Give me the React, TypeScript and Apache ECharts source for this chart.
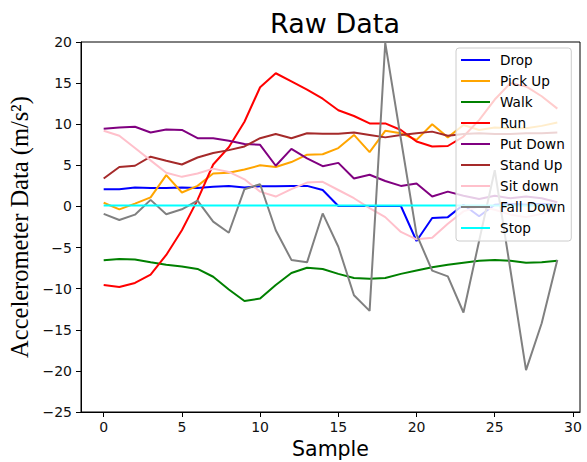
import React, { useEffect, useRef } from "react";
import * as echarts from "echarts";

const samples = Array.from({ length: 30 }, (_, i) => i);
const xTicks = [0, 5, 10, 15, 20, 25, 30];

const drop = [2.1, 2.1, 2.3, 2.25, 2.25, 2.3, 2.25, 2.4, 2.5, 2.3, 2.45, 2.45, 2.5, 2.5, 2.0, 0.05, 0.05, 0.05, 0.05, 0.05, -4.2, -1.4, -1.3, 0.2, -1.2, 0.2, 0.3, 0.2, 0.3, 0.2];
const pickUp = [0.45, -0.35, 0.35, 1.1, 3.8, 1.7, 2.5, 4.0, 4.1, 4.5, 5.0, 4.8, 5.4, 6.3, 6.35, 7.1, 8.7, 6.6, 9.2, 8.9, 8.1, 10.0, 8.4, 9.9, 9.3, 9.6, 9.5, 9.5, 9.8, 10.2];
const walk = [-6.55, -6.4, -6.45, -6.8, -7.1, -7.3, -7.6, -8.55, -10.1, -11.5, -11.2, -9.55, -8.1, -7.45, -7.6, -8.2, -8.7, -8.8, -8.7, -8.2, -7.8, -7.4, -7.1, -6.85, -6.6, -6.5, -6.6, -6.85, -6.8, -6.6];
const run = [-9.55, -9.8, -9.3, -8.3, -5.9, -2.9, 0.8, 5.1, 7.2, 10.3, 14.5, 16.2, 15.2, 14.2, 13.1, 11.7, 11.0, 10.1, 10.1, 9.3, 7.9, 7.3, 7.35, 8.5, 10.5, 13.0, 15.0, 14.6, 13.4, 11.9];
const putDown = [9.45, 9.6, 9.7, 9.0, 9.35, 9.3, 8.3, 8.3, 8.0, 7.6, 7.5, 4.95, 7.0, 5.85, 4.9, 5.3, 3.4, 3.85, 3.1, 2.5, 2.8, 1.2, 1.8, 1.3, 0.9, 1.3, 1.0, 1.2, 1.0, 0.5];
const standUp = [3.4, 4.8, 4.95, 6.05, 5.55, 5.1, 5.95, 6.5, 6.85, 7.3, 8.3, 8.8, 8.3, 8.9, 8.85, 8.85, 9.0, 8.7, 8.4, 8.7, 8.9, 9.1, 8.6, 8.8, 8.9, 8.8, 8.8, 8.9, 8.9, 9.0];
const sitDown = [9.2, 8.6, 7.1, 5.6, 4.1, 3.6, 4.0, 4.6, 4.2, 3.3, 1.8, 1.2, 2.1, 2.9, 3.0, 2.0, 1.0, -0.2, -1.3, -3.1, -4.0, -3.8, -2.1, -0.6, 0.0, -0.4, -1.0, -1.3, -0.9, -0.5];
const fallDown = [-0.9, -1.65, -1.0, 0.8, -0.95, -0.35, 0.7, -1.85, -3.2, 2.1, 2.7, -2.9, -6.5, -6.8, -0.85, -4.9, -10.8, -12.7, 19.9, 8.2, -3.4, -7.8, -8.5, -12.9, -4.2, 4.4, -7.7, -19.9, -14.2, -6.5];
const stop = [0.1, 0.1, 0.1, 0.1, 0.1, 0.1, 0.1, 0.1, 0.1, 0.1, 0.1, 0.1, 0.1, 0.1, 0.1, 0.1, 0.1, 0.1, 0.1, 0.1, 0.1, 0.1, 0.1, 0.1, 0.1, 0.1, 0.1, 0.1, 0.1, 0.1];

const seriesNames = ["Drop", "Pick Up", "Walk", "Run", "Put Down", "Stand Up", "Sit down", "Fall Down", "Stop"];
const seriesValues = [drop, pickUp, walk, run, putDown, standUp, sitDown, fallDown, stop];
const seriesColors = ["#0000ff", "#ffa500", "#008000", "#ff0000", "#800080", "#a52a2a", "#ffc0cb", "#808080", "#00ffff"];

const sans = "DejaVu Sans";
const lineIcon = "path://M0,0L0.01,0M0,6L29,6L29,8L0,8ZM29,14L28.99,14";

export default function App() {
  const ref = useRef<HTMLDivElement>(null);
  useEffect(() => {
    document.body.style.margin = "0";
    const chart = echarts.init(ref.current!, null, { renderer: "svg" });
    const fmt = (v: number) => (v < 0 ? "\u2212" + Math.abs(v) : String(v));
    chart.setOption({
      animation: false,
      backgroundColor: "#ffffff",
      title: {
        text: "Raw Data",
        left: 330,
        textAlign: "center",
        top: 5,
        textStyle: { fontFamily: sans, fontSize: 27, fontWeight: "normal", color: "#000" },
      },
      grid: {
        left: 81,
        right: 7,
        top: 42,
        bottom: 50,
        show: true,
        borderColor: "#000",
        borderWidth: 1,
        backgroundColor: "transparent",
        outerBoundsMode: "none",
      },
      legend: {
        orient: "vertical",
        left: 456,
        top: 48,
        data: seriesNames.map((name) => ({ name, icon: lineIcon })),
        itemWidth: 29,
        itemHeight: 14,
        itemGap: 7,
        padding: [5, 6, 6, 5],
        backgroundColor: "rgba(255,255,255,0.8)",
        borderColor: "#cccccc",
        borderWidth: 1,
        borderRadius: 3,
        textStyle: { fontFamily: sans, fontSize: 13.6, color: "#000", padding: [0, 0, 0, 5] },
      },
      xAxis: {
        type: "value",
        min: -1.45,
        max: 30.45,
        name: "Sample",
        nameLocation: "middle",
        nameGap: 25,
        nameTextStyle: { fontFamily: sans, fontSize: 20.5, color: "#000" },
        axisLine: { show: true, onZero: false, lineStyle: { color: "#000", width: 1 } },
        axisTick: { show: true, length: 5, customValues: xTicks, lineStyle: { color: "#000" } },
        axisLabel: { customValues: xTicks, margin: 8, fontFamily: sans, fontSize: 14, color: "#111", formatter: fmt },
        splitLine: { show: false },
      },
      yAxis: {
        type: "value",
        min: -25,
        max: 20,
        interval: 5,
        name: "Accelerometer Data (m/s\u00b2)",
        nameLocation: "middle",
        nameGap: 42,
        nameTextStyle: { fontFamily: "Liberation Serif", fontSize: 24.5, color: "#000" },
        axisLine: { show: true, onZero: false, lineStyle: { color: "#000", width: 1 } },
        axisTick: { show: true, length: 5, lineStyle: { color: "#000" } },
        axisLabel: { margin: 9, fontFamily: sans, fontSize: 14, color: "#111", formatter: fmt },
        splitLine: { show: false },
      },
      series: seriesNames.map((name, k) => ({
        name,
        type: "line",
        data: samples.map((x, i) => [x, seriesValues[k][i]]),
        symbol: "none",
        clip: true,
        color: seriesColors[k],
        lineStyle: { color: seriesColors[k], width: 2 },
      })),
    });
    return () => chart.dispose();
  }, []);
  return <div ref={ref} style={{ width: 587, height: 462 }} />;
}
